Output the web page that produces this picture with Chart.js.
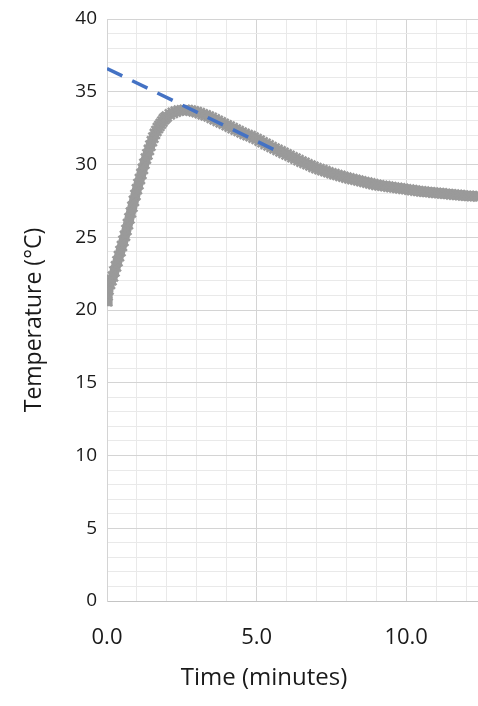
<!DOCTYPE html>
<html>
<head>
<meta charset="utf-8">
<script src="https://cdn.jsdelivr.net/npm/chart.js@4"></script>
<style>
  html, body { margin: 0; padding: 0; background: #fff; }
  #wrap { width: 478px; height: 706px; overflow: hidden; }
</style>
</head>
<body>
<div id="wrap"><canvas id="tempChart" width="478" height="706"></canvas></div>
<script>
// ===== DATA =====
const timeMin = [
  0.00, 0.02, 0.05, 0.10, 0.15, 0.20, 0.25, 0.30, 0.35, 0.40, 0.45, 0.50,
  0.55, 0.60, 0.65, 0.70, 0.75, 0.80, 0.85, 0.90, 0.95, 1.00, 1.05, 1.10,
  1.15, 1.20, 1.25, 1.30, 1.35, 1.40, 1.45, 1.50, 1.55, 1.60, 1.65, 1.70,
  1.75, 1.80, 1.85, 1.90, 1.95, 2.00,
  2.1, 2.2, 2.3, 2.4, 2.5, 2.6, 2.7, 2.8, 2.9, 3.0,
  3.1, 3.2, 3.3, 3.4, 3.5, 3.6, 3.7, 3.8, 3.9, 4.0,
  4.1, 4.2, 4.3, 4.4, 4.5, 4.6, 4.7, 4.8, 4.9, 5.0,
  5.1, 5.2, 5.3, 5.4, 5.5, 5.6, 5.7, 5.8, 5.9, 6.0,
  6.1, 6.2, 6.3, 6.4, 6.5, 6.6, 6.7, 6.8, 6.9, 7.0,
  7.1, 7.2, 7.3, 7.4, 7.5, 7.6, 7.7, 7.8, 7.9, 8.0,
  8.1, 8.2, 8.3, 8.4, 8.5, 8.6, 8.7, 8.8, 8.9, 9.0,
  9.1, 9.2, 9.3, 9.4, 9.5, 9.6, 9.7, 9.8, 9.9, 10.0,
  10.1, 10.2, 10.3, 10.4, 10.5, 10.6, 10.7, 10.8, 10.9, 11.0,
  11.1, 11.2, 11.3, 11.4, 11.5, 11.6, 11.7, 11.8, 11.9, 12.0,
  12.1, 12.2, 12.3, 12.4, 12.5
];
const tempC = [
  20.6, 21.0, 21.4, 21.8, 22.05, 22.3, 22.65, 23.0, 23.35, 23.7, 24.05, 24.4,
  24.75, 25.1, 25.5, 25.9, 26.3, 26.7, 27.1, 27.5, 27.9, 28.3, 28.65, 29.0,
  29.35, 29.7, 30.05, 30.4, 30.7, 31.0, 31.3, 31.6, 31.85, 32.1, 32.3, 32.5,
  32.65, 32.8, 32.95, 33.1, 33.2, 33.3,
  33.45, 33.55, 33.63, 33.7, 33.73, 33.75, 33.74, 33.7, 33.65, 33.6,
  33.53, 33.45, 33.38, 33.3, 33.2, 33.1, 33.0, 32.9, 32.8, 32.7,
  32.6, 32.5, 32.4, 32.3, 32.2, 32.1, 32.02, 31.95, 31.85, 31.75,
  31.64, 31.53, 31.42, 31.31, 31.2, 31.1, 31.0, 30.9, 30.8, 30.7,
  30.6, 30.5, 30.4, 30.3, 30.2, 30.11, 30.02, 29.93, 29.84, 29.75,
  29.68, 29.61, 29.54, 29.47, 29.4, 29.34, 29.28, 29.22, 29.16, 29.1,
  29.05, 29.0, 28.95, 28.9, 28.85, 28.8, 28.75, 28.7, 28.65, 28.6,
  28.57, 28.54, 28.51, 28.48, 28.45, 28.42, 28.39, 28.36, 28.33, 28.3,
  28.27, 28.24, 28.21, 28.18, 28.15, 28.13, 28.11, 28.09, 28.07, 28.05,
  28.03, 28.01, 27.99, 27.97, 27.95, 27.93, 27.91, 27.89, 27.87, 27.85,
  27.84, 27.83, 27.82, 27.8, 27.78
];

// extrapolated cooling line (blue dashes)
const fitTime = [0, 5.75];
const fitTemp = [36.6, 30.85];

const xTitle = 'Time (minutes)';
const yTitle = 'Temperature (°C)';

const toXY = (xs, ys) => xs.map((x, i) => ({ x: x, y: ys[i] }));

// axis titles placed like the spreadsheet version
const axisTitles = {
  id: 'axisTitles',
  afterDraw(chart) {
    const { ctx, chartArea: a } = chart;
    ctx.save();
    ctx.fillStyle = '#1a1a1a';
    ctx.textAlign = 'center';
    ctx.textBaseline = 'middle';
    ctx.font = '24px "Open Sans"';
    ctx.fillText(xTitle, a.left + 157, a.bottom + 77);
    ctx.translate(34, a.top + 301);
    ctx.rotate(-Math.PI / 2);
    ctx.font = '23px "Open Sans"';
    ctx.fillText(yTitle, 0, 0);
    ctx.restore();
  }
};

const gridColor = c => (c.tick && c.tick.value % 5 === 0) ? '#d4d4d4' : '#e9e9e9';

new Chart(document.getElementById('tempChart').getContext('2d'), {
  type: 'scatter',
  data: {
    datasets: [
      {
        label: 'Fit',
        data: toXY(fitTime, fitTemp),
        showLine: true,
        borderColor: '#4472C4',
        borderWidth: 3.5,
        borderDash: [17, 11],
        pointRadius: 0,
        order: 0
      },
      {
        label: 'Temperature',
        data: toXY(timeMin, tempC),
        showLine: true,
        borderColor: '#9a9a9a',
        borderWidth: 10,
        pointStyle: 'crossRot',
        pointRadius: 7,
        pointBorderWidth: 2.5,
        pointBorderColor: '#9a9a9a',
        order: 1
      }
    ]
  },
  options: {
    responsive: false,
    animation: false,
    devicePixelRatio: 1,
    layout: { autoPadding: false, padding: { top: 19, left: 0, right: 0, bottom: 0 } },
    plugins: { legend: { display: false }, tooltip: { enabled: false } },
    scales: {
      x: {
        type: 'linear',
        min: 0,
        max: 12.4,
        afterFit: s => { s.height = 105; },
        border: { color: '#c4c4c4' },
        // invisible tick marks push the labels down without side padding
        grid: { color: gridColor, drawTicks: true, tickLength: 24, tickColor: 'rgba(0,0,0,0)' },
        ticks: {
          stepSize: 1,
          includeBounds: false,
          autoSkip: false,
          maxRotation: 0,
          padding: 0,
          color: '#1a1a1a',
          font: { family: 'Open Sans', size: 22 },
          callback: v => (v % 5 === 0 ? v.toFixed(1) : '')
        }
      },
      y: {
        min: 0,
        max: 40,
        afterFit: s => { s.width = 107; },
        border: { color: '#d4d4d4' },
        grid: { color: gridColor, drawTicks: true, tickLength: 10, tickColor: 'rgba(0,0,0,0)' },
        ticks: {
          stepSize: 1,
          autoSkip: false,
          padding: 0,
          color: '#1a1a1a',
          font: { family: 'Open Sans', size: 19 },
          callback: v => (v % 5 === 0 ? v : '')
        }
      }
    }
  },
  plugins: [axisTitles]
});
</script>
</body>
</html>
